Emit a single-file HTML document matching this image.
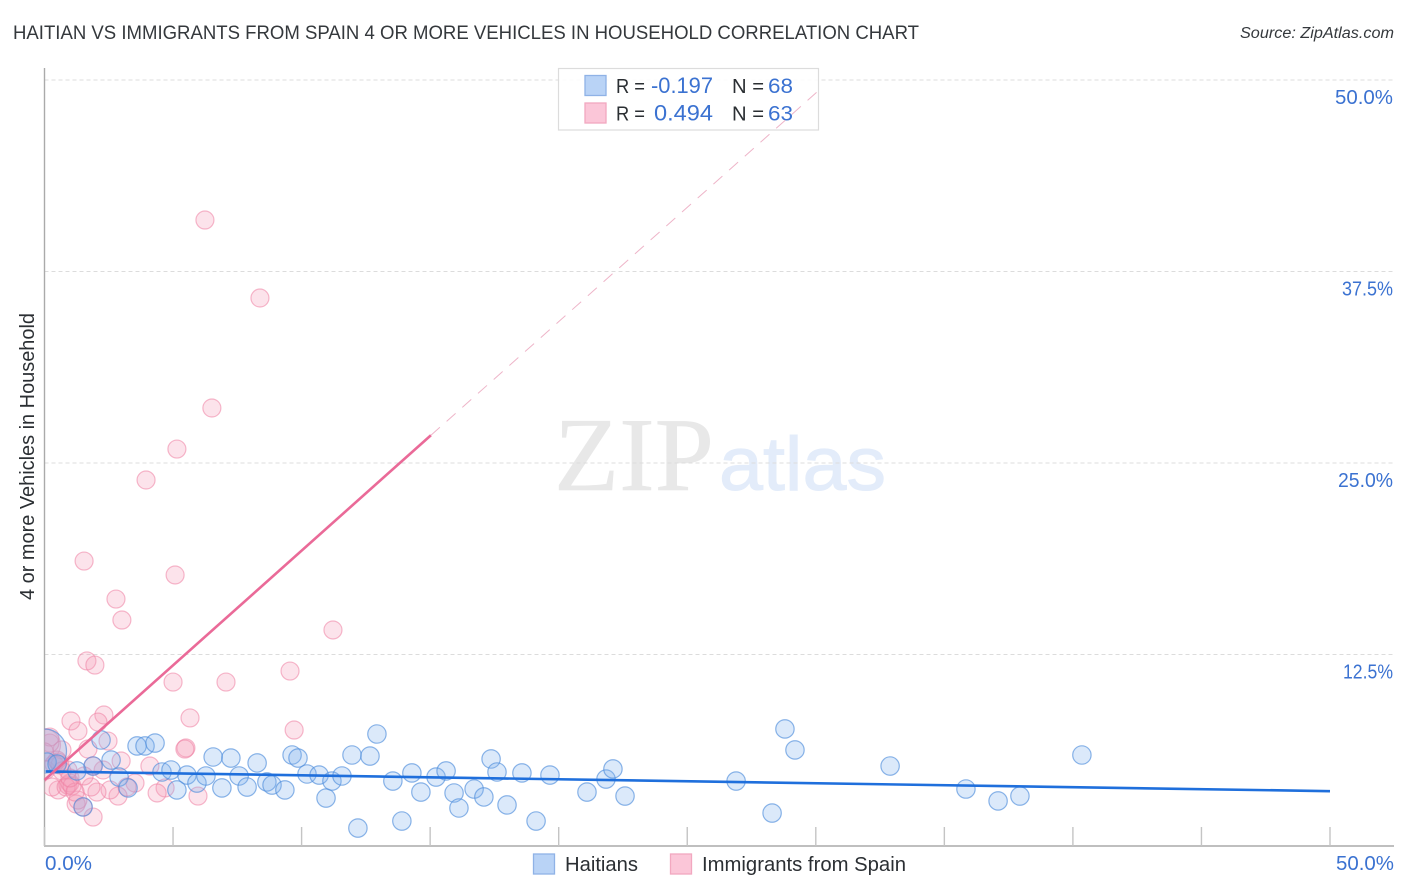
<!DOCTYPE html>
<html lang="en">
<head>
<meta charset="utf-8">
<title>Haitian vs Immigrants from Spain correlation chart</title>
<style>
html,body{margin:0;padding:0;background:#fff;}
body{width:1406px;height:892px;overflow:hidden;}
svg{display:block;}
text{font-family:"Liberation Sans",sans-serif;}
</style>
</head>
<body>
<svg id="chart" xmlns="http://www.w3.org/2000/svg" width="1406" height="892" viewBox="0 0 1406 892">
  <defs>
    <clipPath id="plot-clip"><rect x="44.5" y="60" width="1360" height="786"></rect></clipPath>
  </defs>
  <text x="13" y="39" font-size="19" fill="#34383c" textLength="906" lengthAdjust="spacingAndGlyphs">HAITIAN VS IMMIGRANTS FROM SPAIN 4 OR MORE VEHICLES IN HOUSEHOLD CORRELATION CHART</text>
  <text x="1394" y="38" font-size="15.5" font-style="italic" fill="#34383c" text-anchor="end" textLength="154" lengthAdjust="spacingAndGlyphs">Source: ZipAtlas.com</text>
  <text transform="translate(34,456.5) rotate(-90)" font-size="20" fill="#2b2f33" text-anchor="middle" textLength="287" lengthAdjust="spacingAndGlyphs">4 or more Vehicles in Household</text>

  <g>
    <text x="554" y="490" font-size="105" fill="#e8e8e8" stroke="#e8e8e8" stroke-width="0.5" style="font-family:'Liberation Serif',serif" textLength="160" lengthAdjust="spacingAndGlyphs">ZIP</text>
    <text x="719" y="490" font-size="76" fill="#e3ecfa" stroke="#e3ecfa" stroke-width="1" textLength="167" lengthAdjust="spacingAndGlyphs">atlas</text>
  </g>

  <g id="grid"></g>
  <g id="axes"></g>
  <g id="points" clip-path="url(#plot-clip)"></g>
  <g id="trends"></g>
  <g id="ticklabels"></g>

  <g>
    <rect x="558.5" y="68.5" width="260" height="61.5" fill="#fff" fill-opacity="0.88" stroke="#dcdcdc" stroke-width="1.2"></rect>
    <rect x="585" y="75.5" width="21" height="20" fill="#b9d3f6" stroke="#8fb2e6" stroke-width="1.3"></rect>
    <rect x="585" y="103" width="21" height="20" fill="#fbc6d8" stroke="#f2a8c0" stroke-width="1.3"></rect>
    <text x="616" y="93" font-size="20" fill="#2b2f33" textLength="29" lengthAdjust="spacingAndGlyphs">R =</text>
    <text x="651" y="93" font-size="22" fill="#3b72d1" textLength="62" lengthAdjust="spacingAndGlyphs">-0.197</text>
    <text x="732" y="93" font-size="20" fill="#2b2f33" textLength="32" lengthAdjust="spacingAndGlyphs">N =</text>
    <text x="768" y="93" font-size="21" fill="#3b72d1" textLength="25" lengthAdjust="spacingAndGlyphs">68</text>
    <text x="616" y="120.5" font-size="20" fill="#2b2f33" textLength="29" lengthAdjust="spacingAndGlyphs">R =</text>
    <text x="654" y="120.5" font-size="22" fill="#3b72d1" textLength="59" lengthAdjust="spacingAndGlyphs">0.494</text>
    <text x="732" y="120.5" font-size="20" fill="#2b2f33" textLength="32" lengthAdjust="spacingAndGlyphs">N =</text>
    <text x="768" y="120.5" font-size="21" fill="#3b72d1" textLength="25" lengthAdjust="spacingAndGlyphs">63</text>
  </g>
  <g id="projection"></g>

  <g>
    <rect x="533.5" y="854" width="21" height="20" fill="#b9d3f6" stroke="#8fb2e6" stroke-width="1.3"></rect>
    <text x="565" y="871" font-size="20" fill="#2b2f33" textLength="73" lengthAdjust="spacingAndGlyphs">Haitians</text>
    <rect x="670.5" y="854" width="21" height="20" fill="#fbc6d8" stroke="#f2a8c0" stroke-width="1.3"></rect>
    <text x="702" y="871" font-size="20" fill="#2b2f33" textLength="204" lengthAdjust="spacingAndGlyphs">Immigrants from Spain</text>
  </g>
</svg>
<script>
const haitianX = [0.10,0.49,1.89,1.26,2.59,2.90,3.25,1.50,2.20,3.60,3.91,4.30,4.57,4.92,5.15,5.54,5.93,6.28,6.56,6.90,7.25,7.57,7.88,8.27,8.65,8.85,9.35,9.63,9.86,10.21,10.68,10.95,11.18,11.57,11.96,12.19,12.66,12.93,13.55,13.90,14.29,14.64,15.23,15.62,15.93,16.12,16.71,17.09,17.37,17.60,17.99,18.57,19.12,19.66,21.10,21.84,22.11,22.58,26.90,28.30,28.80,29.19,32.89,35.84,37.09,37.94,40.35];
const haitianY = [5.48,5.35,5.22,4.90,5.61,4.50,3.79,2.55,6.92,6.53,6.53,6.72,4.83,4.96,3.66,4.63,4.11,4.57,5.81,3.79,5.74,4.57,3.85,5.42,4.18,3.98,3.66,5.94,5.74,4.70,4.63,3.13,4.24,4.57,5.94,1.17,5.87,7.31,4.24,1.63,4.77,3.52,4.50,4.90,3.46,2.48,3.72,3.20,5.68,4.83,2.68,4.77,1.63,4.63,3.52,4.37,5.03,3.26,4.24,2.15,7.64,6.27,5.22,3.72,2.94,3.26,5.94];
const haitianLargeX = [0.0];
const haitianLargeY = [6.2];

const spainX = [6.24,8.38,6.51,5.15,3.95,1.54,5.08,2.78,3.01,11.22,1.65,1.96,9.55,5.00,7.06,5.66,9.71,1.03,2.31,2.08,1.30,2.47,1.69,2.98,4.10,5.50,5.46,3.52,3.21,2.86,2.55,2.04,1.81,2.28,1.89,4.69,4.38,5.97,1.89,1.50,1.23,1.30,0.53,0.29,0.91,0.99,0.84,1.07,1.19,0.68,0.21,0.21,0.00,0.06,0.53,0.37,0.60,0.49,0.68,0.91,0.99,1.54];
const spainY = [40.86,35.77,28.59,25.91,23.89,18.60,17.69,16.12,14.75,14.10,12.08,11.81,11.42,10.70,10.70,8.36,7.57,8.16,8.55,8.09,7.51,6.85,6.33,5.55,5.22,6.40,6.33,4.11,3.85,3.26,3.66,3.52,3.85,4.96,5.22,3.79,3.46,3.26,1.89,2.55,2.74,3.00,3.66,3.85,3.98,4.11,3.85,3.92,3.52,6.27,6.72,7.11,6.14,4.96,5.48,5.35,5.29,5.61,4.90,4.96,4.44,4.57];
const spainLargeX = [0.0];
const spainLargeY = [6.6];

const haitianTrendX = [0.06,50];
const haitianTrendY = [4.87,3.58];
const spainTrendX = [0,15.03];
const spainTrendY = [4.31,26.81];
const spainTrendDashedX = [15.03,30.25];
const spainTrendDashedY = [26.81,49.52];

const xTickValues = [0,5,10,15,20,25,30,35,40,45,50];
const xTickLabels = ["0.0%","50.0%"];
const xTickLabelValues = [0,50];
const yGridValues = [12.5,25,37.5,50];
const yTickLabels = ["12.5%","25.0%","37.5%","50.0%"];

const xScale = v => 44.5 + v * 25.71;
const yScale = v => 846 - v * 15.32;
const SVGNS = "http://www.w3.org/2000/svg";
const labelGlyphWidth = {"0":12,"1":7,"2":9,"3":9.5,"5":11,"7":7.5,".":4,"%":19};
const labelWidth = s => s.split("").reduce((sum, ch) => sum + labelGlyphWidth[ch], 0);
function mk(tag, parent, attrs){
  const el = document.createElementNS(SVGNS, tag);
  for (const k in attrs) el.setAttribute(k, attrs[k]);
  parent.appendChild(el);
  return el;
}
const grid = document.getElementById("grid");
const axes = document.getElementById("axes");
const points = document.getElementById("points");
const trends = document.getElementById("trends");
const projection = document.getElementById("projection");
const labels = document.getElementById("ticklabels");

yGridValues.forEach(v => {
  const el = mk("line", grid, {x1:44.5, x2:1394, y1:yScale(v), y2:yScale(v), stroke:"#dcdcdc", "stroke-width":1, "stroke-dasharray":"4 3"});
  
  
});

const yAxis = mk("line", axes, {x1:44.5, x2:44.5, y1:68, y2:846, stroke:"#aaaaaa", "stroke-width":1.4});


const xAxis = mk("line", axes, {x1:44, x2:1394, y1:846, y2:846, stroke:"#aaaaaa", "stroke-width":1.4});


xTickValues.forEach(v => {
  const el = mk("line", axes, {x1:xScale(v), x2:xScale(v), y1:827, y2:846, stroke:"#c4c4c4", "stroke-width":1.4});
  
  
});

function drawSeries(xs, ys, r, fill, stroke, fillOp, strokeOp, name){
  xs.forEach((v, i) => {
    const c = mk("circle", points, {cx:xScale(v), cy:yScale(ys[i]), r:r, fill:fill, "fill-opacity":fillOp, stroke:stroke, "stroke-opacity":strokeOp, "stroke-width":1.2});
    
    
  });
}
drawSeries(spainLargeX, spainLargeY, 16, "#f59ab6", "#ee7fa3", 0.28, 0.55, "spain-point-large");
drawSeries(spainX, spainY, 9, "#f59ab6", "#ee7fa3", 0.28, 0.55, "spain-point");
drawSeries(haitianLargeX, haitianLargeY, 22, "#7fb0ee", "#4f8ddc", 0.28, 0.65, "haitian-point-large");
drawSeries(haitianX, haitianY, 9.2, "#7fb0ee", "#4f8ddc", 0.28, 0.65, "haitian-point");

const hLine = mk("line", trends, {x1:xScale(haitianTrendX[0]), y1:yScale(haitianTrendY[0]), x2:xScale(haitianTrendX[1]), y2:yScale(haitianTrendY[1]), stroke:"#1f6fdc", "stroke-width":2.6});


const sLine = mk("line", trends, {x1:xScale(spainTrendX[0]), y1:yScale(spainTrendY[0]), x2:xScale(spainTrendX[1]), y2:yScale(spainTrendY[1]), stroke:"#ea6a98", "stroke-width":2.6});


const sDash = mk("line", projection, {x1:xScale(spainTrendDashedX[0]), y1:yScale(spainTrendDashedY[0]), x2:xScale(spainTrendDashedX[1]), y2:yScale(spainTrendDashedY[1]), stroke:"#eeb4c8", "stroke-width":1, "stroke-dasharray":"12 9"});



yGridValues.forEach((v, i) => {
  const t = mk("text", labels, {x:1393, y:yScale(v) + 24, "font-size":20, fill:"#3b72d1", "text-anchor":"end", textLength:labelWidth(yTickLabels[i]), lengthAdjust:"spacingAndGlyphs"});
  t.textContent = yTickLabels[i];
  
  
});
xTickLabelValues.forEach((v, i) => {
  const t = mk("text", labels, {x: i === 0 ? 45 : 1394, y:870, "font-size":20, fill:"#3b72d1", "text-anchor": i === 0 ? "start" : "end", textLength:labelWidth(xTickLabels[i]), lengthAdjust:"spacingAndGlyphs"});
  t.textContent = xTickLabels[i];
  
  
});
</script>
</body>
</html>
